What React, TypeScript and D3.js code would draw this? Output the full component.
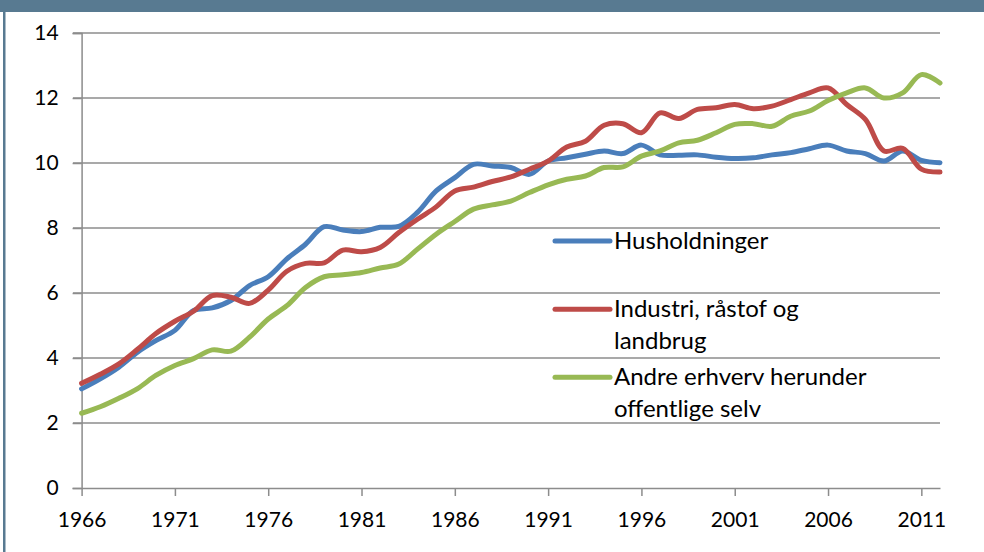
import React, { useEffect, useRef } from 'react'
import * as d3 from 'd3'

const years = d3.range(1966, 2013)

const husholdninger = [
  3.05, 3.36, 3.72, 4.18, 4.54, 4.85, 5.46, 5.54, 5.77, 6.23,
  6.5, 7.05, 7.5, 8.04, 7.94, 7.89, 8.02, 8.05, 8.48, 9.14,
  9.55, 9.96, 9.91, 9.86, 9.65, 10.06, 10.16, 10.27, 10.37, 10.29,
  10.55, 10.25, 10.24, 10.25, 10.18, 10.14, 10.16, 10.25, 10.32, 10.44,
  10.55, 10.37, 10.29, 10.06, 10.37, 10.08, 10.01
]
const industri = [
  3.22, 3.5, 3.82, 4.27, 4.76, 5.13, 5.44, 5.92, 5.87, 5.68,
  6.09, 6.67, 6.91, 6.93, 7.32, 7.27, 7.4, 7.86, 8.27, 8.65,
  9.14, 9.26, 9.43, 9.57, 9.81, 10.06, 10.49, 10.67, 11.16, 11.21,
  10.93, 11.54, 11.37, 11.65, 11.7, 11.8, 11.67, 11.75, 11.95, 12.16,
  12.31, 11.8, 11.34, 10.37, 10.45, 9.81, 9.72
]
const andre = [
  2.3, 2.5, 2.76, 3.06, 3.47, 3.77, 3.98, 4.25, 4.21, 4.64,
  5.2, 5.61, 6.17, 6.5, 6.56, 6.63, 6.77, 6.89, 7.35, 7.81,
  8.2, 8.58, 8.71, 8.83, 9.09, 9.33, 9.5, 9.6, 9.86, 9.88,
  10.21, 10.37, 10.62, 10.7, 10.93, 11.19, 11.21, 11.13, 11.44, 11.6,
  11.92, 12.16, 12.31, 12.0, 12.16, 12.72, 12.46
]

const series = [
  { name: ['Husholdninger'], values: husholdninger, color: '#4A7EBB' },
  { name: ['Industri, råstof og', 'landbrug'], values: industri, color: '#BE4B48' },
  { name: ['Andre erhverv herunder', 'offentlige selv'], values: andre, color: '#98B954' }
]

const yTicks = [0, 2, 4, 6, 8, 10, 12, 14]
const xTicks = [1966, 1971, 1976, 1981, 1986, 1991, 1996, 2001, 2006, 2011]

function App() {
  const ref = useRef(null)

  useEffect(() => {
    document.body.style.margin = '0'
    const svg = d3.select(ref.current)
    svg.selectAll('*').remove()

    const font = 'Lato, "Open Sans", sans-serif'
    const frame = '#587A91'

    // frame: top bar and left border
    svg.append('rect').attr('x', 0).attr('y', 0).attr('width', 984).attr('height', 12).attr('fill', frame)
    svg.append('rect').attr('x', 3).attr('y', 0).attr('width', 2.5).attr('height', 552).attr('fill', frame)

    const x = d3.scaleLinear().domain([1966, 2012]).range([81.6, 940])
    const y = d3.scaleLinear().domain([0, 14]).range([488, 33])

    // gridlines
    svg.append('g')
      .selectAll('line')
      .data(yTicks.filter(d => d > 0))
      .join('line')
        .attr('x1', 73).attr('x2', 940)
        .attr('y1', d => y(d)).attr('y2', d => y(d))
        .attr('stroke', '#8C8C8C').attr('stroke-width', 1.5)

    // y axis
    const yAxis = d3.axisLeft(y).tickValues(yTicks).tickSize(9).tickPadding(14)
    const gy = svg.append('g').attr('transform', `translate(${x(1966)},0)`).call(yAxis)
    gy.select('.domain').attr('stroke', '#8C8C8C').attr('stroke-width', 1.5)
    gy.selectAll('.tick line').attr('stroke', '#8C8C8C').attr('stroke-width', 1.5)
    gy.selectAll('text').attr('font-family', font).attr('font-size', 21).attr('fill', '#000')

    // x axis
    const xAxis = d3.axisBottom(x).tickValues(xTicks).tickFormat(d3.format('d')).tickSize(8).tickPadding(16).tickSizeOuter(0)
    const gx = svg.append('g').attr('transform', `translate(0,${y(0)})`).call(xAxis)
    gx.select('.domain').attr('stroke', '#8C8C8C').attr('stroke-width', 1.5)
    gx.selectAll('.tick line').attr('stroke', '#8C8C8C').attr('stroke-width', 1.5)
    gx.selectAll('text').attr('font-family', font).attr('font-size', 21).attr('fill', '#000')

    // lines
    const line = d3.line<number>()
      .x((d, i) => x(years[i]))
      .y(d => y(d))
      .curve(d3.curveCatmullRom.alpha(0.5))

    svg.append('g')
      .selectAll('path')
      .data(series)
      .join('path')
        .attr('d', d => line(d.values))
        .attr('fill', 'none')
        .attr('stroke', d => d.color)
        .attr('stroke-width', 5)
        .attr('stroke-linecap', 'round')
        .attr('stroke-linejoin', 'round')

    // legend
    const legendY = [241, 309.3, 377.3]
    const legend = svg.append('g')
      .selectAll('g')
      .data(series)
      .join('g')
        .attr('transform', (d, i) => `translate(555,${legendY[i]})`)
    legend.append('line')
      .attr('x1', 0).attr('x2', 55)
      .attr('stroke', d => d.color).attr('stroke-width', 5).attr('stroke-linecap', 'round')
    legend.append('text')
      .attr('font-family', font).attr('font-size', 24).attr('fill', '#000')
      .selectAll('tspan')
      .data(d => d.name)
      .join('tspan')
        .attr('x', 59)
        .attr('y', (d, i) => 8 + i * 32)
        .text(d => d)
  }, [])

  return <svg ref={ref} width={984} height={552} style={{ display: 'block' }} />
}

export default App
